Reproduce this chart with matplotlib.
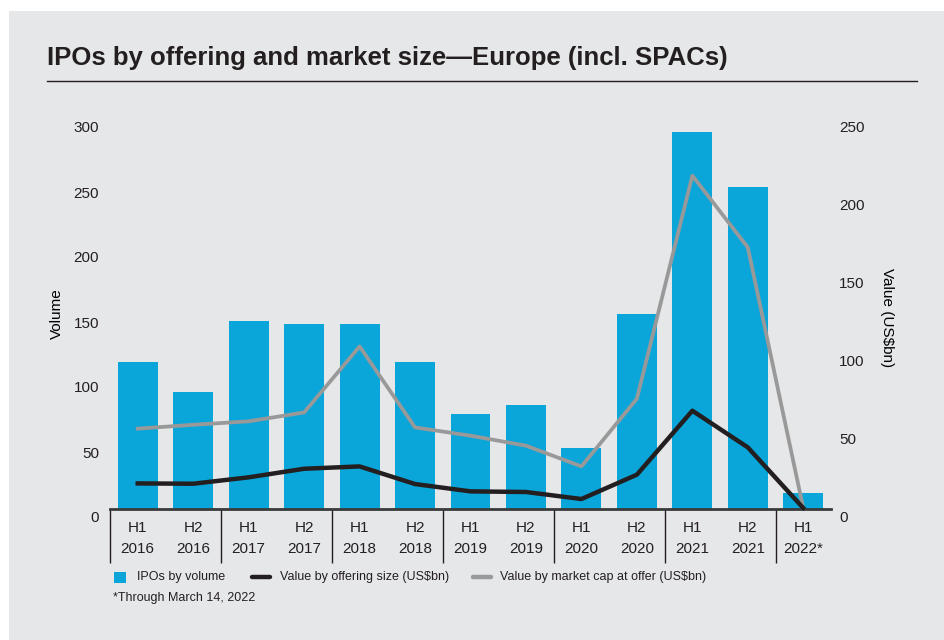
import matplotlib
matplotlib.use("Agg")
import matplotlib.pyplot as plt
import matplotlib.transforms as mtransforms
from matplotlib.patches import Rectangle
from matplotlib.lines import Line2D

# datos
periods = ["H1\n2016", "H2\n2016", "H1\n2017", "H2\n2017", "H1\n2018", "H2\n2018",
           "H1\n2019", "H2\n2019", "H1\n2020", "H2\n2020", "H1\n2021", "H2\n2021",
           "H1\n2022*"]
ipo_volume = [113, 90, 145, 142, 142, 113, 73, 80, 47, 150, 290, 248, 12]
value_offering = [16.4, 16.2, 20.3, 25.8, 27.3, 16.0, 11.3, 10.9, 6.4, 22.0, 63.0, 39.5, 0.6]
value_market_cap = [51.5, 54.0, 56.2, 61.9, 104.2, 52.3, 47.0, 40.6, 27.3, 70.7, 213.7, 167.7, 0.5]
volume_ticks = [0, 50, 100, 150, 200, 250, 300]
value_ticks = [0, 50, 100, 150, 200, 250]

BG = "#e6e7e9"
BLUE = "#0aa6d9"
DARK = "#231f20"
GREY = "#999999"
W, H = 944, 640

plt.rcParams['font.family'] = ['Liberation Sans Narrow', 'Liberation Sans', 'DejaVu Sans']
plt.rcParams['text.color'] = DARK


def fx(px):
    return px / W


def fy(py):
    return 1 - py / H


fig = plt.figure(figsize=(W / 100, H / 100), dpi=100)
fig.patch.set_facecolor("white")
fig.add_artist(Rectangle((fx(9), 0), 1, fy(11), transform=fig.transFigure,
                         facecolor=BG, edgecolor="none", zorder=-10))

# titulo y linea
fig.text(fx(47), fy(58), "IPOs by offering and market size\u2014Europe (incl. SPACs)",
         fontsize=18.5, fontweight="bold", va="center", ha="left")
fig.add_artist(Line2D([fx(47), fx(917)], [fy(81), fy(81)], transform=fig.transFigure,
                      color=DARK, lw=1.0))

ax = fig.add_axes([fx(110), fy(509), (831 - 110) / W, 390 / H])
ax.set_facecolor("none")
x = list(range(len(periods)))
ax.bar(x, ipo_volume, width=0.72, color=BLUE, zorder=2)
ax.set_xlim(-0.5, len(periods) - 0.5)
ax.set_ylim(0, 300)
ax.set_yticks(volume_ticks)
ax.set_xticks(x)
ax.set_xticklabels(periods, fontsize=11, linespacing=1.6)
ax.tick_params(axis="x", length=0, pad=9, colors=DARK)
ax.tick_params(axis="y", length=0, pad=8, labelsize=11, colors=DARK)
for s in ["top", "right", "left"]:
    ax.spines[s].set_visible(False)
ax.spines["bottom"].set_color("#3a3a3a")
ax.spines["bottom"].set_linewidth(2)
ax.set_ylabel("Volume", fontsize=11)
ax.yaxis.set_label_coords(-0.064, 0.5)

# separadores por anio
bounds = [-0.5] + [i + 1.5 for i in range(0, len(periods) - 1, 2)]
ax.vlines(bounds, 0, -0.138, transform=ax.get_xaxis_transform(), clip_on=False,
          color=DARK, lw=1.0)

ax2 = ax.twinx()
ax2.set_ylim(0, 250)
ax2.set_yticks(value_ticks)
ax2.plot(x, value_market_cap, color=GREY, lw=2.7, clip_on=False, zorder=3)
ax2.plot(x, value_offering, color=DARK, lw=3.2, clip_on=False, zorder=4)
ax2.tick_params(axis="y", length=0, pad=6, labelsize=11, colors=DARK)
for s in ["top", "right", "left", "bottom"]:
    ax2.spines[s].set_visible(False)
ax2.set_ylabel("Value (US$bn)", fontsize=11, rotation=270, va="center")
ax2.yaxis.set_label_coords(1.0777, 0.49)

# etiquetas un poco mas abajo, como en el original
off = mtransforms.ScaledTranslation(0, -0.08, fig.dpi_scale_trans)
for lbl in ax.get_yticklabels() + ax2.get_yticklabels():
    lbl.set_transform(lbl.get_transform() + off)

# leyenda a mano
ly = fy(577)
fig.add_artist(Rectangle((fx(114), fy(583)), fx(12), 11 / H, transform=fig.transFigure,
                         facecolor=BLUE, edgecolor="none"))
fig.text(fx(137), ly, "IPOs by volume", fontsize=9, va="center")
fig.add_artist(Line2D([fx(252), fx(270)], [ly, ly], transform=fig.transFigure,
                      color=DARK, lw=3.2, solid_capstyle="round"))
fig.text(fx(280), ly, "Value by offering size (US$bn)", fontsize=9, va="center")
fig.add_artist(Line2D([fx(473), fx(491)], [ly, ly], transform=fig.transFigure,
                      color=GREY, lw=3.2, solid_capstyle="round"))
fig.text(fx(500), ly, "Value by market cap at offer (US$bn)", fontsize=9, va="center")
fig.text(fx(113), fy(598), "*Through March 14, 2022", fontsize=9, va="center")

fig.savefig("out.png", dpi=100, facecolor=fig.get_facecolor())
